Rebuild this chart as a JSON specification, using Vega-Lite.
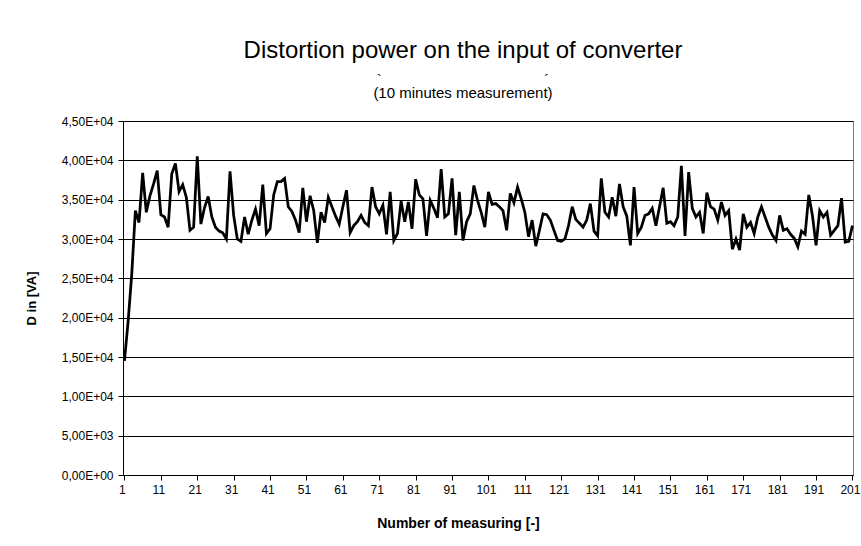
{
  "$schema": "https://vega.github.io/schema/vega-lite/v6.json",
  "width": 730,
  "height": 354,
  "autosize": {"type": "none"},
  "padding": {"left": 123, "top": 121, "right": 8, "bottom": 71},
  "background": "white",
  "title": {
    "text": "Distortion power on the input of converter",
    "subtitle": ["`\u00a0\u00a0\u00a0\u00a0\u00a0\u00a0\u00a0\u00a0\u00a0\u00a0\u00a0\u00a0\u00a0\u00a0\u00a0\u00a0\u00a0\u00a0\u00a0\u00a0\u00a0\u00a0\u00a0\u00a0\u00a0\u00a0\u00a0\u00a0\u00a0\u00a0\u00a0\u00a0\u00a0\u00a0\u00a0\u00a0\u00a0\u00a0\u00a0´\u00a0\u00a0\u00a0\u00a0\u00a0\u00a0\u00a0\u00a0\u00a0\u00a0\u00a0", "(10 minutes measurement)\u00a0\u00a0\u00a0\u00a0\u00a0\u00a0"],
    "anchor": "middle",
    "frame": "group",
    "dx": -25,
    "offset": 14,
    "font": "Liberation Sans",
    "fontSize": 24,
    "fontWeight": "normal",
    "color": "black",
    "subtitleFont": "Liberation Sans",
    "subtitleFontSize": 15,
    "subtitleColor": "black",
    "subtitlePadding": 10,
    "subtitleLineHeight": 13
  },
  "data": {"values": [
    {"n":1,"D":14500},{"n":2,"D":19500},{"n":3,"D":25500},{"n":4,"D":33600},{"n":5,"D":32100},
    {"n":6,"D":38400},{"n":7,"D":33400},{"n":8,"D":35500},{"n":9,"D":37000},{"n":10,"D":38700},
    {"n":11,"D":33100},{"n":12,"D":32800},{"n":13,"D":31500},{"n":14,"D":38300},{"n":15,"D":39600},
    {"n":16,"D":36000},{"n":17,"D":36900},{"n":18,"D":35300},{"n":19,"D":31100},{"n":20,"D":31500},
    {"n":21,"D":40500},{"n":22,"D":31900},{"n":23,"D":34000},{"n":24,"D":35400},{"n":25,"D":32800},
    {"n":26,"D":31500},{"n":27,"D":31000},{"n":28,"D":30800},{"n":29,"D":30000},{"n":30,"D":38600},
    {"n":31,"D":33000},{"n":32,"D":30000},{"n":33,"D":29700},{"n":34,"D":32800},{"n":35,"D":30600},
    {"n":36,"D":32400},{"n":37,"D":33800},{"n":38,"D":31700},{"n":39,"D":36900},{"n":40,"D":30700},
    {"n":41,"D":31300},{"n":42,"D":35600},{"n":43,"D":37300},{"n":44,"D":37300},{"n":45,"D":37700},
    {"n":46,"D":34100},{"n":47,"D":33500},{"n":48,"D":32400},{"n":49,"D":30800},{"n":50,"D":36500},
    {"n":51,"D":32200},{"n":52,"D":35500},{"n":53,"D":33600},{"n":54,"D":29500},{"n":55,"D":33400},
    {"n":56,"D":32100},{"n":57,"D":35300},{"n":58,"D":34100},{"n":59,"D":32900},{"n":60,"D":31900},
    {"n":61,"D":34100},{"n":62,"D":36200},{"n":63,"D":30800},{"n":64,"D":31700},{"n":65,"D":32200},
    {"n":66,"D":33000},{"n":67,"D":32100},{"n":68,"D":31700},{"n":69,"D":36600},{"n":70,"D":34100},
    {"n":71,"D":33200},{"n":72,"D":34300},{"n":73,"D":30600},{"n":74,"D":36000},{"n":75,"D":29800},
    {"n":76,"D":30700},{"n":77,"D":34800},{"n":78,"D":32200},{"n":79,"D":34700},{"n":80,"D":31300},
    {"n":81,"D":37600},{"n":82,"D":35600},{"n":83,"D":35100},{"n":84,"D":30400},{"n":85,"D":34900},
    {"n":86,"D":33900},{"n":87,"D":32700},{"n":88,"D":38900},{"n":89,"D":32800},{"n":90,"D":33200},
    {"n":91,"D":37700},{"n":92,"D":30500},{"n":93,"D":36000},{"n":94,"D":29800},{"n":95,"D":32200},
    {"n":96,"D":33200},{"n":97,"D":36800},{"n":98,"D":34900},{"n":99,"D":33400},{"n":100,"D":31500},
    {"n":101,"D":36000},{"n":102,"D":34400},{"n":103,"D":34500},{"n":104,"D":34100},{"n":105,"D":33600},
    {"n":106,"D":31100},{"n":107,"D":35800},{"n":108,"D":34600},{"n":109,"D":36600},{"n":110,"D":35100},
    {"n":111,"D":33400},{"n":112,"D":30300},{"n":113,"D":32400},{"n":114,"D":29100},{"n":115,"D":31100},
    {"n":116,"D":33200},{"n":117,"D":33100},{"n":118,"D":32400},{"n":119,"D":31100},{"n":120,"D":29800},
    {"n":121,"D":29700},{"n":122,"D":30000},{"n":123,"D":31700},{"n":124,"D":34100},{"n":125,"D":32500},
    {"n":126,"D":32000},{"n":127,"D":31500},{"n":128,"D":32400},{"n":129,"D":34500},{"n":130,"D":31000},
    {"n":131,"D":30400},{"n":132,"D":37700},{"n":133,"D":33400},{"n":134,"D":32800},{"n":135,"D":35300},
    {"n":136,"D":32900},{"n":137,"D":37000},{"n":138,"D":34100},{"n":139,"D":32900},{"n":140,"D":29200},
    {"n":141,"D":36600},{"n":142,"D":30700},{"n":143,"D":31500},{"n":144,"D":33000},{"n":145,"D":33200},
    {"n":146,"D":33900},{"n":147,"D":31700},{"n":148,"D":34100},{"n":149,"D":36500},{"n":150,"D":32000},
    {"n":151,"D":32200},{"n":152,"D":31700},{"n":153,"D":32800},{"n":154,"D":39300},{"n":155,"D":30400},
    {"n":156,"D":38500},{"n":157,"D":33900},{"n":158,"D":32800},{"n":159,"D":33400},{"n":160,"D":30700},
    {"n":161,"D":35900},{"n":162,"D":34100},{"n":163,"D":33800},{"n":164,"D":32400},{"n":165,"D":34700},
    {"n":166,"D":33000},{"n":167,"D":33600},{"n":168,"D":28700},{"n":169,"D":30000},{"n":170,"D":28600},
    {"n":171,"D":33200},{"n":172,"D":31500},{"n":173,"D":32100},{"n":174,"D":30700},{"n":175,"D":32800},
    {"n":176,"D":34100},{"n":177,"D":32800},{"n":178,"D":31500},{"n":179,"D":30500},{"n":180,"D":29800},
    {"n":181,"D":33000},{"n":182,"D":31100},{"n":183,"D":31300},{"n":184,"D":30600},{"n":185,"D":30100},
    {"n":186,"D":29000},{"n":187,"D":31000},{"n":188,"D":30600},{"n":189,"D":35600},{"n":190,"D":33000},
    {"n":191,"D":29200},{"n":192,"D":33600},{"n":193,"D":32800},{"n":194,"D":33400},{"n":195,"D":30500},
    {"n":196,"D":31100},{"n":197,"D":31700},{"n":198,"D":35200},{"n":199,"D":29600},{"n":200,"D":29700},
    {"n":201,"D":31700}
  ]},
  "mark": {"type": "line", "color": "black", "strokeWidth": 2.75, "interpolate": "linear"},
  "encoding": {
    "x": {
      "field": "n",
      "type": "quantitative",
      "scale": {"domain": [0.6, 201.15], "nice": false, "zero": false},
      "axis": {
        "values": [1, 11, 21, 31, 41, 51, 61, 71, 81, 91, 101, 111, 121, 131, 141, 151, 161, 171, 181, 191, 201],
        "grid": false,
        "labelFlush": false,
        "labelOverlap": false,
        "labelBound": false,
        "labelFontSize": 12,
        "labelPadding": 4,
        "labelOffset": -2.5,
        "tickSize": 5,
        "title": "Number of measuring [-]",
        "titleFontSize": 14,
        "titleFontWeight": "bold",
        "titleX": 335,
        "titleY": 52,
        "titleBaseline": "alphabetic",
        "titleAlign": "center"
      }
    },
    "y": {
      "field": "D",
      "type": "quantitative",
      "scale": {"domain": [0, 45000], "nice": false},
      "axis": {
        "values": [0, 5000, 10000, 15000, 20000, 25000, 30000, 35000, 40000, 45000],
        "labelExpr": "replace(replace(format(datum.value, '.2e'), '.', ','), 'e+', 'E+0')",
        "grid": true,
        "gridColor": "black",
        "gridWidth": 1,
        "gridOpacity": 1,
        "labelFontSize": 12,
        "labelPadding": 5,
        "labelOverlap": false,
        "labelBound": false,
        "labelFlush": false,
        "tickSize": 5,
        "title": "D in [VA]",
        "titleFontSize": 13,
        "titleFontWeight": "bold",
        "titleAngle": -90,
        "titleX": -92,
        "titleY": 177,
        "titleAlign": "center",
        "titleBaseline": "middle"
      }
    }
  },
  "config": {
    "font": "Liberation Sans",
    "view": {"stroke": "#808080", "strokeWidth": 1},
    "axis": {
      "labelFont": "Liberation Sans",
      "titleFont": "Liberation Sans",
      "labelColor": "black",
      "titleColor": "black",
      "domainColor": "black",
      "domainWidth": 1,
      "tickColor": "black",
      "tickWidth": 1
    }
  }
}
